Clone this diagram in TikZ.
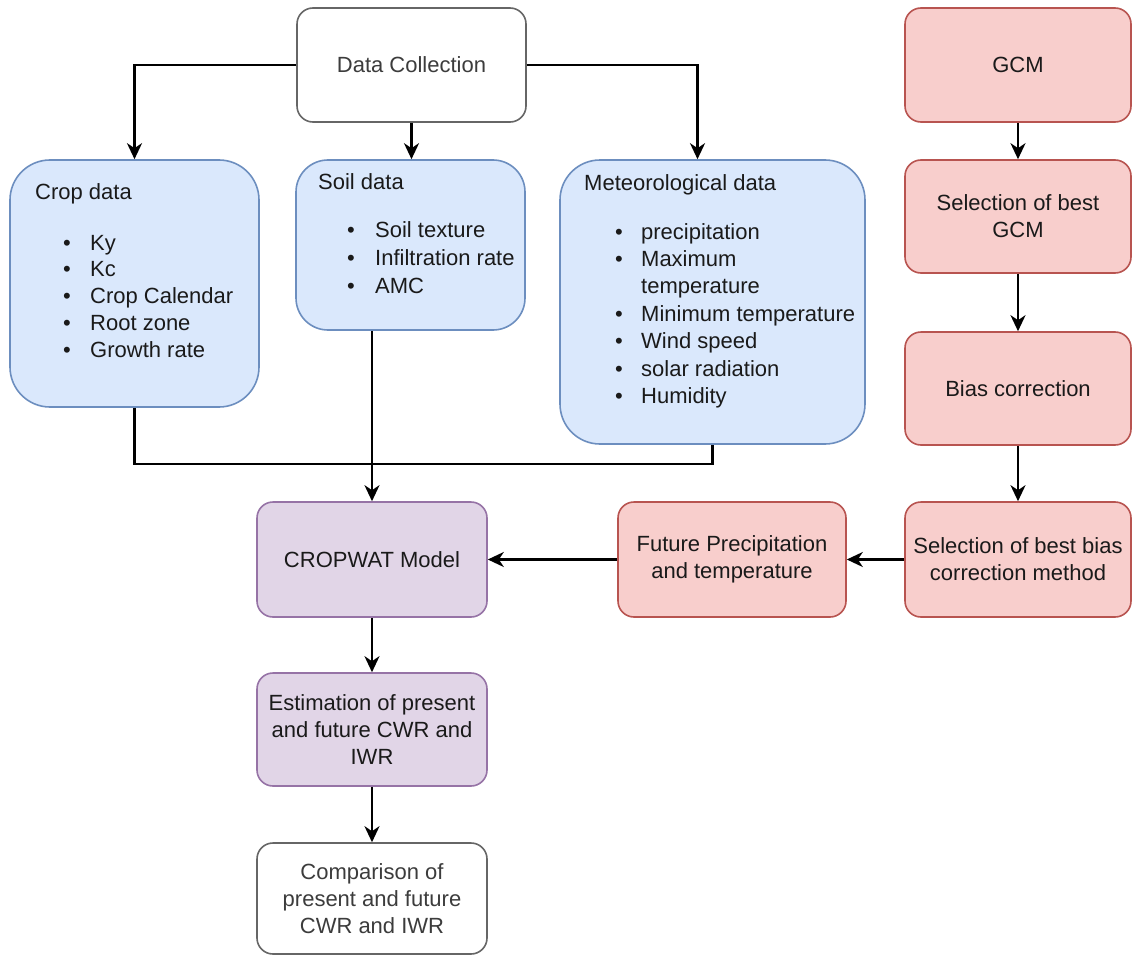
\documentclass[tikz,border=0pt]{standalone}
\usepackage{fontspec}
\setmainfont{Liberation Sans}
\usetikzlibrary{arrows.meta,calc}
\definecolor{bluefill}{HTML}{DAE8FC}
\definecolor{bluedraw}{HTML}{6C8EBF}
\definecolor{redfill}{HTML}{F8CECC}
\definecolor{reddraw}{HTML}{B85450}
\definecolor{purpfill}{HTML}{E1D5E7}
\definecolor{purpdraw}{HTML}{9673A6}
\definecolor{greydraw}{HTML}{666666}
\definecolor{txtdark}{HTML}{1A1A1A}
\definecolor{txtgrey}{HTML}{3C3C3C}
\begin{document}
\begin{tikzpicture}[x=1pt,y=-1pt,
  box/.style={draw, line width=1.6pt, align=center, inner sep=0pt,
    font=\fontsize{22}{27}\selectfont, text=txtdark, rounded corners=16pt},
  whitebox/.style={box, draw=greydraw, fill=white, text=txtgrey},
  bluebox/.style={box, draw=bluedraw, fill=bluefill},
  redbox/.style={box, draw=reddraw, fill=redfill},
  purpbox/.style={box, draw=purpdraw, fill=purpfill},
  lbl/.style={anchor=base west, inner sep=0pt, font=\fontsize{22}{27}\selectfont, text=txtdark},
  arr/.style={draw=black, line width=2.4pt, -{Stealth[length=16pt,width=15pt,inset=5pt]}},
  conn/.style={draw=black, line width=2.4pt}
]
\useasboundingbox (0,0) rectangle (1132,955);

% ---- boxes ----
\node[whitebox, minimum width=229pt, minimum height=114pt] (dc) at (411.5,65) {Data Collection};
\node[bluebox, minimum width=249pt, minimum height=247pt, rounded corners=40pt] (crop) at (134.5,283.5) {};
\node[bluebox, minimum width=229pt, minimum height=170pt, rounded corners=32pt] (soil) at (410.5,245) {};
\node[bluebox, minimum width=305pt, minimum height=284pt, rounded corners=40pt] (met) at (712.5,302) {};

\node[redbox, minimum width=226pt, minimum height=114pt] (gcm) at (1018,65) {GCM};
\node[redbox, minimum width=226pt, minimum height=113pt] (selgcm) at (1018,216.5) {Selection of best\\GCM};
\node[redbox, minimum width=226pt, minimum height=113pt] (bias) at (1018,388.5) {Bias correction};
\node[redbox, minimum width=226pt, minimum height=115pt] (selbias) at (1018,559.5) {Selection of best bias\\correction method};
\node[redbox, minimum width=228pt, minimum height=115pt] (future) at (732,559.5) {Future Precipitation\\and temperature};

\node[purpbox, minimum width=230pt, minimum height=115pt] (cw) at (372,559.5) {CROPWAT Model};
\node[purpbox, minimum width=230pt, minimum height=113pt] (est) at (372,729.5) {Estimation of present\\and future CWR and\\IWR};
\node[whitebox, minimum width=230pt, minimum height=111pt] (cmp) at (372,898.5) {Comparison of\\present and future\\CWR and IWR};

% ---- list texts ----
\node[lbl] (croptitle) at (35,199) {Crop data};
\foreach \t [count=\i] in {Ky,Kc,Crop Calendar,Root zone,Growth rate}
  \node[lbl] (cropitem\i) at (63,{250+(\i-1)*26.8}) {\makebox[27pt][l]{\textbullet}\t};

\node[lbl] (soiltitle) at (318,189) {Soil data};
\foreach \t [count=\i] in {Soil texture,Infiltration rate,AMC}
  \node[lbl] (soilitem\i) at (347,{237+(\i-1)*28}) {\makebox[28pt][l]{\textbullet}\t};

\node[lbl] (mettitle) at (584,190) {Meteorological data};
\foreach \t [count=\i] in {precipitation,Maximum,\hspace*{26pt}temperature,Minimum temperature,Wind speed,solar radiation,Humidity}
  \node[lbl] (metitem\i) at (615,{239+(\i-1)*27.4}) {\ifnum\i=3 \t\else\makebox[26pt][l]{\textbullet}\t\fi};

% ---- connectors ----
\draw[arr] (dc.west) -| (crop.north);
\draw[arr] (dc.south) -- (dc.south |- soil.north);
\draw[arr] (dc.east) -| ([xshift=-15pt]met.north);

\draw[conn] (crop.south) |- ($(met.south)+(0,19)$) -- (met.south);
\draw[arr] (soil.south -| cw.north) -- (cw.north);

\draw[arr] (gcm.south) -- (selgcm.north);
\draw[arr] (selgcm.south) -- (bias.north);
\draw[arr] (bias.south) -- (selbias.north);
\draw[arr] (selbias.west) -- (future.east);
\draw[arr] (future.west) -- (cw.east);
\draw[arr] (cw.south) -- (est.north);
\draw[arr] (est.south) -- (cmp.north);
\end{tikzpicture}
\end{document}
